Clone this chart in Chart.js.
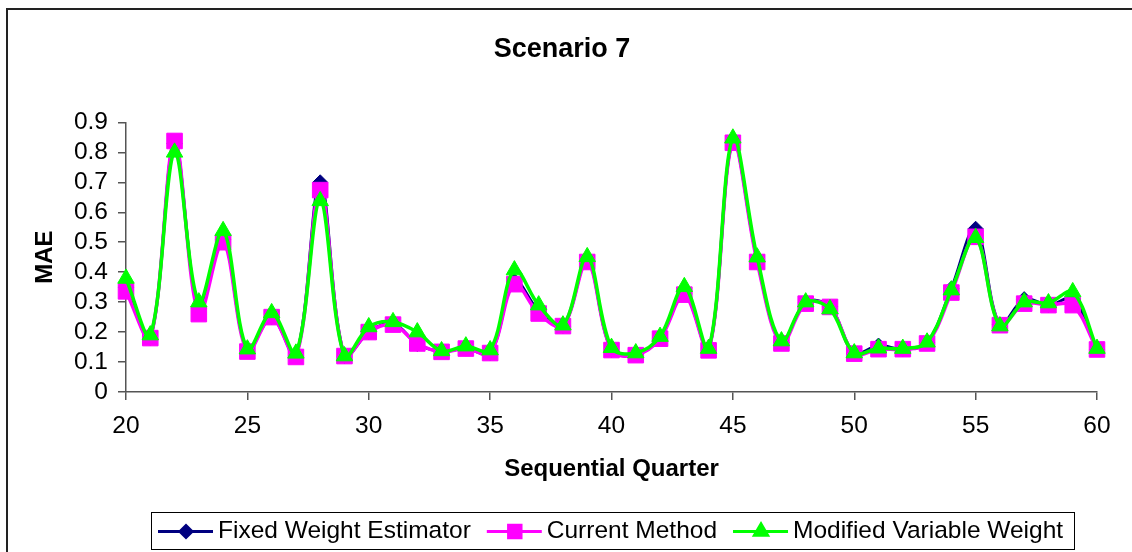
<!DOCTYPE html>
<html>
<head>
<meta charset="utf-8">
<script src="https://cdn.jsdelivr.net/npm/chart.js@4"></script>
<style>
  html, body { margin: 0; padding: 0; background: #fff; overflow: hidden; }
  #wrap { position: relative; width: 1132px; height: 552px; }
</style>
</head>
<body>
<div id="wrap"><canvas id="maeChart" width="1132" height="552"></canvas></div>
<script>
const quarters = [20, 21, 22, 23, 24, 25, 26, 27, 28, 29, 30, 31, 32, 33, 34, 35, 36, 37, 38, 39, 40,
  41, 42, 43, 44, 45, 46, 47, 48, 49, 50, 51, 52, 53, 54, 55, 56, 57, 58, 59, 60];

const fixedWeight = [0.35, 0.18, 0.83, 0.28, 0.51, 0.14, 0.25, 0.12, 0.70, 0.12, 0.20,
  0.23, 0.16, 0.135, 0.145, 0.13, 0.37, 0.27, 0.22, 0.44, 0.14,
  0.125, 0.18, 0.33, 0.14, 0.835, 0.44, 0.165, 0.30, 0.285, 0.13,
  0.155, 0.143, 0.165, 0.345, 0.545, 0.225, 0.31, 0.29, 0.31, 0.142];

const currentMethod = [0.336, 0.18, 0.838, 0.26, 0.50, 0.135, 0.25, 0.117, 0.674, 0.12, 0.20,
  0.225, 0.162, 0.134, 0.145, 0.13, 0.36, 0.262, 0.22, 0.434, 0.14,
  0.123, 0.178, 0.325, 0.139, 0.832, 0.434, 0.162, 0.295, 0.284, 0.128,
  0.143, 0.143, 0.162, 0.332, 0.518, 0.223, 0.295, 0.29, 0.29, 0.142];

const modifiedVariable = [0.379, 0.19, 0.80, 0.30, 0.538, 0.143, 0.264, 0.129, 0.638, 0.12, 0.217,
  0.234, 0.20, 0.137, 0.153, 0.14, 0.407, 0.29, 0.223, 0.451, 0.148,
  0.13, 0.185, 0.351, 0.145, 0.847, 0.45, 0.17, 0.30, 0.277, 0.13,
  0.146, 0.145, 0.166, 0.34, 0.515, 0.22, 0.30, 0.297, 0.334, 0.145];

const seriesLabels = ['Fixed Weight Estimator', 'Current Method', 'Modified Variable Weight'];

const FONT = "'Liberation Sans', Arial, sans-serif";

function toPoints(values) {
  return quarters.map((q, i) => ({ x: q, y: values[i] }));
}

function lineDataset(label, values, color, pointStyle, radius, width) {
  return {
    label,
    data: toPoints(values),
    borderColor: color,
    backgroundColor: color,
    borderWidth: width,
    tension: 0.35,
    clip: false,
    pointStyle,
    pointRadius: radius,
    pointHoverRadius: radius,
    pointBorderColor: color,
    pointBackgroundColor: color,
    pointBorderWidth: 1,
  };
}

// green on top, navy at the bottom (first dataset is drawn last)
const datasets = [
  lineDataset(seriesLabels[2], modifiedVariable, '#00ff00', 'triangle', 9.5, 3.5),
  lineDataset(seriesLabels[1], currentMethod, '#ff00ff', 'rect', 11, 3.5),
  lineDataset(seriesLabels[0], fixedWeight, '#000080', 'rectRot', 7.5, 3),
];

const frameAndLegend = {
  id: 'frameAndLegend',
  beforeDraw(chart) {
    const { ctx } = chart;
    ctx.save();
    ctx.fillStyle = '#fff';
    ctx.fillRect(0, 0, chart.width, chart.height);
    ctx.strokeStyle = '#222';
    ctx.lineWidth = 2;
    ctx.beginPath();
    ctx.moveTo(7, chart.height + 5);
    ctx.lineTo(7, 9);
    ctx.lineTo(chart.width + 5, 9);
    ctx.stroke();
    ctx.restore();
  },
  afterDraw(chart) {
    const { ctx } = chart;
    const box = { left: 151, top: 512, right: 1074, bottom: 549 };
    ctx.save();
    ctx.strokeStyle = '#000';
    ctx.lineWidth = 1;
    ctx.strokeRect(box.left + 0.5, box.top + 0.5, box.right - box.left, box.bottom - box.top);
    ctx.font = `24.5px ${FONT}`;
    ctx.textBaseline = 'middle';
    ctx.fillStyle = '#000';
    const midY = (box.top + box.bottom) / 2 + 1;
    let x = 158;
    [...datasets].reverse().forEach((ds) => {
      ctx.strokeStyle = ds.borderColor;
      ctx.lineWidth = 3;
      ctx.beginPath();
      ctx.moveTo(x, midY);
      ctx.lineTo(x + 55, midY);
      ctx.stroke();
      Chart.helpers.drawPoint(ctx, {
        pointStyle: ds.pointStyle,
        radius: ds.pointRadius * 0.8,
        borderWidth: 1,
        rotation: 0,
      }, x + 28, midY);
      ctx.fillStyle = ds.borderColor;
      ctx.fill();
      ctx.fillStyle = '#000';
      ctx.fillText(ds.label, x + 60, midY);
      x += 60 + ctx.measureText(ds.label).width + 16;
    });
    ctx.restore();
  },
};

const axisGrid = { display: true, drawOnChartArea: false, drawTicks: true, tickLength: 8, color: '#555', lineWidth: 1.5 };

new Chart(document.getElementById('maeChart'), {
  type: 'line',
  data: { datasets },
  plugins: [frameAndLegend],
  options: {
    responsive: false,
    animation: false,
    layout: { padding: { left: 27, right: 35, top: 0, bottom: 64 } },
    plugins: {
      legend: { display: false },
      tooltip: { enabled: false },
      title: {
        display: true,
        text: 'Scenario 7',
        color: '#000',
        font: { family: FONT, size: 27, weight: 'bold' },
        padding: { top: 33, bottom: 57 },
      },
    },
    scales: {
      x: {
        type: 'linear',
        min: 20,
        max: 60,
        afterFit(scale) { scale.height = 96; },
        ticks: {
          stepSize: 5,
          autoSkip: false,
          color: '#000',
          padding: 12,
          maxRotation: 0,
          font: { family: FONT, size: 24.5 },
        },
        grid: axisGrid,
        border: { color: '#555', width: 1.5 },
        title: {
          display: true,
          text: 'Sequential Quarter',
          color: '#000',
          font: { family: FONT, size: 24, weight: 'bold' },
        },
      },
      y: {
        min: 0,
        max: 0.9,
        afterFit(scale) { scale.width = 99; },
        ticks: {
          stepSize: 0.1,
          autoSkip: false,
          color: '#000',
          padding: 10,
          font: { family: FONT, size: 24.5 },
          callback: (v) => (v === 0 ? '0' : v.toFixed(1)),
        },
        grid: axisGrid,
        border: { color: '#555', width: 1.5 },
        title: {
          display: true,
          text: 'MAE',
          color: '#000',
          font: { family: FONT, size: 24, weight: 'bold' },
        },
      },
    },
  },
});
</script>
</body>
</html>
